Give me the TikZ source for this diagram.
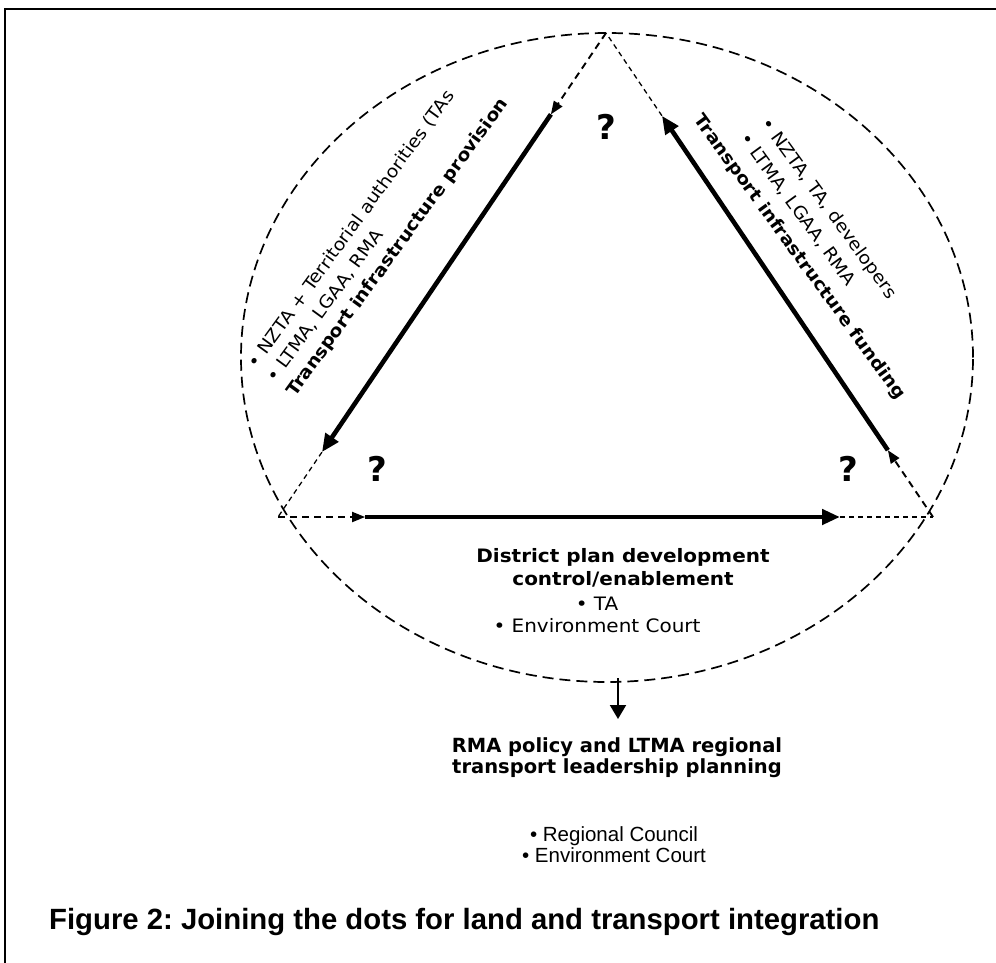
\documentclass[tikz,border=0pt]{standalone}
\usepackage{fontspec}
\setmainfont{DejaVu Sans}[FakeStretch=1.08]
\newfontfamily\plainfont{DejaVu Sans}
\newfontfamily\capfont{Liberation Sans}
\usetikzlibrary{arrows.meta,calc}
\frenchspacing
\begin{document}
\begin{tikzpicture}[x=1pt,y=-1pt,
    thickarrow/.style={line width=4.6pt,-{Triangle[length=18pt,width=15pt]}},
    dasharrow/.style={line width=1.9pt,dash pattern=on 7pt off 5pt,-{Triangle[length=13pt,width=10pt]}},
    dashtail/.style={line width=1.3pt,dash pattern=on 5pt off 4pt},
    rim/.style={line width=1.7pt,dash pattern=on 11pt off 6pt},
    query/.style={font=\plainfont\fontsize{34}{34}\selectfont\bfseries,inner sep=0pt},
    sidetext/.style={align=left,inner sep=0pt}]
  \useasboundingbox (0,0) rectangle (996,963);
  % frame
  \draw[line width=2pt] (5,963) -- (5,9) -- (996,9);
  % triangle corners and the ring round them
  \coordinate (T) at (606,33);
  \coordinate (BL) at (278,517);
  \coordinate (BR) at (933,517);
  \draw[rim] (607,357.5) ellipse [x radius=366pt, y radius=324.5pt];
  \coordinate (L1) at ($(T)!0.168!(BL)$);
  \coordinate (L2) at ($(T)!0.866!(BL)$);
  \coordinate (B1) at ($(BL)!0.133!(BR)$);
  \coordinate (B2) at ($(BL)!0.858!(BR)$);
  \coordinate (R1) at ($(BR)!0.138!(T)$);
  \coordinate (R2) at ($(BR)!0.829!(T)$);
  % left side
  \draw[dasharrow] (T) -- (L1);
  \draw[thickarrow] (L1) -- (L2);
  \draw[dashtail] (L2) -- (BL);
  % bottom side
  \draw[dasharrow] (BL) -- (B1);
  \draw[thickarrow] (B1) -- (B2);
  \draw[dashtail] (B2) -- (BR);
  % right side
  \draw[dasharrow] (BR) -- (R1);
  \draw[thickarrow] (R1) -- (R2);
  \draw[dashtail] (R2) -- (T);
  % question marks
  \node[query] (qtop) at (606,127) {?};
  \node[query] (qleft) at (377,469) {?};
  \node[query] (qright) at (848,469) {?};
  % labels along the sides
  \node[sidetext,font=\fontsize{17.5}{24}\selectfont,rotate=54,anchor=south west] (provision) at (298,400)
    {\textbullet{} NZTA + Territorial authorities (TAs\\
     \textbullet{} LTMA, LGAA, RMA\\
     \textbf{Transport infrastructure provision}};
  \node[sidetext,font=\fontsize{17.5}{26}\selectfont,rotate=-54,anchor=south west] (funding) at (690,122)
    {\hspace*{42pt}\textbullet{} NZTA, TA, developers\\
     \hspace*{42pt}\textbullet{} LTMA, LGAA, RMA\\
     \textbf{Transport infrastructure funding}};
  % district plan labels
  \node[font=\fontsize{18.5}{23}\selectfont\bfseries,align=center,inner sep=0pt] (district) at (623,568)
    {District plan development\\ control/enablement};
  \node[font=\fontsize{18.5}{21.5}\selectfont,align=center,inner sep=0pt] (ta) at (597,615)
    {\textbullet{} TA\\ \textbullet{} Environment Court};
  % regional level
  \coordinate (E) at (618,678);
  \coordinate (Etip) at (618,719);
  \draw[line width=2pt,-{Triangle[length=14pt,width=16pt]}] (E) -- (Etip);
  \node[font=\plainfont\fontsize{19.5}{21}\selectfont\bfseries,align=center,inner sep=0pt] (rma) at (617,758)
    {RMA policy and LTMA regional\\ transport leadership planning};
  \node[font=\capfont\fontsize{20.5}{21}\selectfont,align=center,inner sep=0pt] (council) at (614,845)
    {\textbullet{} Regional Council\\ \textbullet{} Environment Court};
  % caption
  \node[font=\capfont\fontsize{29.3}{29.3}\selectfont\bfseries,anchor=base west,inner sep=0pt] (caption) at (49,929)
    {Figure 2: Joining the dots for land and transport integration};
\end{tikzpicture}
\end{document}
